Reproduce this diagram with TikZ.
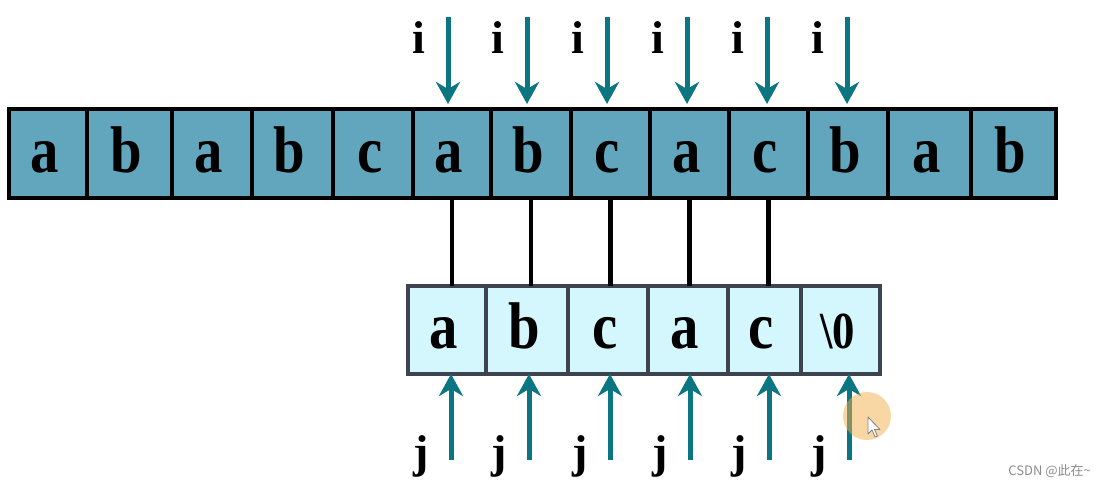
\documentclass[tikz,border=0pt]{standalone}
\usepackage{fontspec}
\usepackage{graphicx}
\setmainfont{Liberation Serif}
\newfontfamily\cjkfont{Noto Sans CJK SC}
\usetikzlibrary{arrows.meta,calc}
\definecolor{topfill}{HTML}{62A6BE}
\definecolor{botfill}{HTML}{D3F7FC}
\definecolor{botdraw}{HTML}{3E4350}
\definecolor{teal}{HTML}{0B7581}
\definecolor{wmark}{HTML}{8C8C8C}
\definecolor{halo}{HTML}{F5B04A}
\newcommand\celltext[1]{\hspace*{-6pt}\scalebox{0.86}[1]{#1}}
\newcommand\nulchar{{\fontsize{52}{52}\selectfont\textbackslash 0}}
\begin{document}
\begin{tikzpicture}[x=1pt,y=-1pt,
  lettertext/.style={font=\fontsize{66}{66}\selectfont\bfseries, text height=37pt, text depth=0pt,
    inner sep=0pt, outer sep=0pt},
  topcell/.style={lettertext, draw=black, line width=4pt, fill=topfill, minimum height=89pt},
  botcell/.style={lettertext, draw=botdraw, line width=4pt, fill=botfill, minimum height=88pt},
  ptrlabel/.style={font=\fontsize{46}{46}\selectfont\bfseries, inner sep=0pt, anchor=base},
  ptrarrow/.style={draw=teal, line width=5pt, -{Stealth[length=22pt,width=24pt,inset=7pt]}},
  conn/.style={draw=black, line width=4.5pt}]
\useasboundingbox (0,0) rectangle (1105,487);
\fill[white] (0,0) rectangle (1105,487);
% top array
\foreach \k/\l/\r/\c in {0/9/87/a,1/87/172/b,2/172/252/a,3/252/333/b,4/333/413/c,5/413/491/a,6/491/571/b,7/571/650/c,8/650/729/a,9/729/808/c,10/808/888/b,11/888/971/a,12/971/1056/b}{
  \pgfmathsetmacro{\w}{\r-\l}
  \node[topcell, minimum width=\w pt] (t\k) at ({(\l+\r)/2},153.5) {\celltext{\c}};
}
\draw[line width=4.5pt] (t0.north west) rectangle (t12.south east);
% bottom array
\foreach \k/\l/\r/\c in {0/408/486/a,1/486/568/b,2/568/648/c,3/648/728/a,4/728/801/c,5/801/880/\nulchar}{
  \pgfmathsetmacro{\w}{\r-\l}
  \node[botcell, minimum width=\w pt] (b\k) at ({(\l+\r)/2},330) {\celltext{\c}};
}
% connectors
\foreach \k/\j in {5/0,6/1,7/2,8/3,9/4}{
  \draw[conn] (t\k.south) -- (t\k.south |- b\j.north);
}
% i pointers
\foreach \k/\x in {5/448,6/527,7/607,8/687,9/767,10/847}{
  \coordinate (itop\k) at (\x,17);
  \draw[ptrarrow, shorten >=5pt] (itop\k) -- (itop\k |- t\k.north);
  \node[ptrlabel] (ilab\k) at (\x-29,53) {i};
}
% j pointers
\foreach \k/\x in {0/451,1/529,2/610,3/690,4/769,5/849}{
  \coordinate (jbot\k) at (\x,460);
  \draw[ptrarrow, shorten >=0pt] (jbot\k) -- (jbot\k |- b\k.south);
  \node[ptrlabel] (jlab\k) at (\x-30,467) {j};
}
% cursor highlight
\fill[halo, opacity=0.5] (867,416) circle (24);
\draw[fill=white, draw=gray, line width=0.8pt, line join=round]
  (868,417) -- (868,434) -- (872,430) -- (875,437) -- (877.5,436) -- (874.5,429.5) -- (880,429.5) -- cycle;
% watermark
\node[font=\cjkfont\fontsize{13}{13}\selectfont, text=wmark, anchor=east, inner sep=0pt] (wm) at (1091,471) {CSDN @此在\char`\~};
\end{tikzpicture}
\end{document}
